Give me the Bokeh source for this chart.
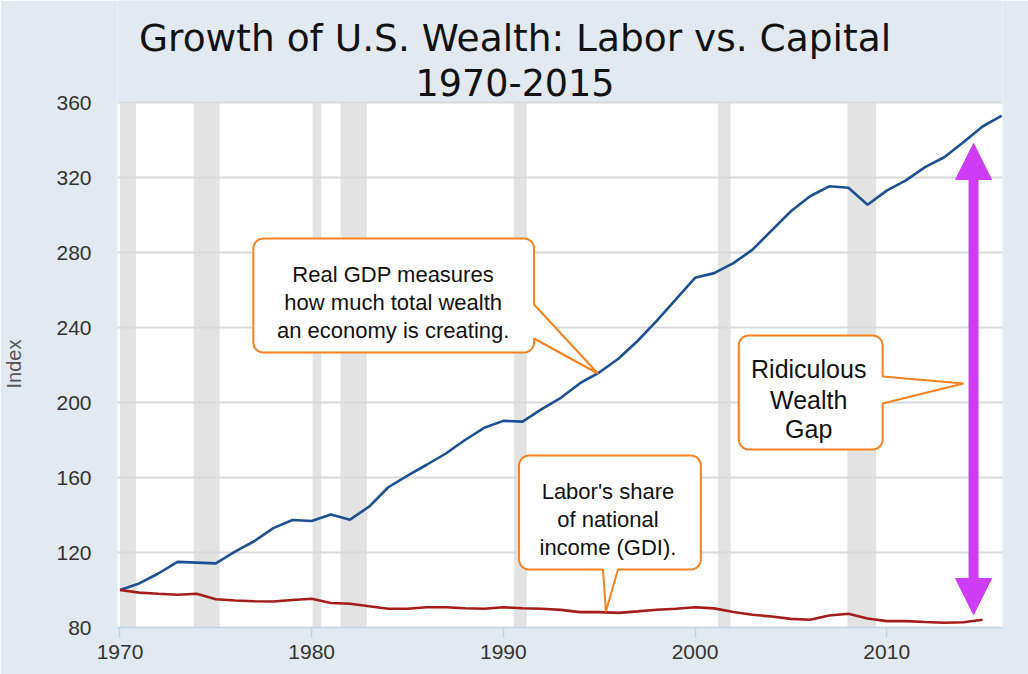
import math
from bokeh.plotting import figure
from bokeh.models import Range1d, Arrow, NormalHead
from bokeh.core.properties import value
from bokeh.embed import file_html
from bokeh.resources import INLINE

# ---------------- data ----------------
years_gdp = list(range(1970, 2017))
gdp = [100, 103.5, 108.8, 115, 114.6, 114.2, 120.5, 126, 133, 137.3,
       136.8, 140.3, 137.5, 144.5, 154.8, 161, 166.8, 172.8, 180, 186.5,
       190.2, 189.8, 196.5, 202.5, 210.3, 216, 223.3, 232.8, 243.5, 255,
       266.5, 269, 274.3, 281.5, 291.8, 302, 310, 315.3, 314.5, 305.5,
       313, 318.5, 325.5, 330.8, 338.8, 347.2, 353]
years_labor = list(range(1970, 2016))
labor = [100, 98.6, 98, 97.5, 98, 95.1, 94.4, 94, 93.9, 94.7,
         95.3, 93.1, 92.7, 91.3, 90, 90, 90.8, 90.8, 90.3, 90,
         90.8, 90.3, 90, 89.4, 88.2, 88.2, 87.8, 88.6, 89.5, 90,
         90.8, 90.2, 88.3, 86.8, 85.9, 84.6, 84.1, 86.4, 87.3, 84.8,
         83.4, 83.4, 82.9, 82.5, 82.8, 84.1]
rec_start = [1970.0, 1973.85, 1980.05, 1981.5, 1990.55, 2001.2, 2007.95]
rec_end = [1970.83, 1975.2, 1980.5, 1982.88, 1991.22, 2001.85, 2009.45]
x_ticks = [1970, 1980, 1990, 2000, 2010]
y_ticks = [80, 120, 160, 200, 240, 280, 320, 360]

title_lines = ["Growth of U.S. Wealth: Labor vs. Capital", "1970-2015"]
y_label = "Index"
gdp_note = ["Real GDP measures", "how much total wealth", "an economy is creating."]
labor_note = ["Labor's share", "of national", "income (GDI)."]
gap_note = ["Ridiculous", "Wealth", "Gap"]

# ---------------- layout ----------------
W, H = 1028, 674
X0, X1 = 1969.87, 2016.04
Y0, YTOP = 80, 360
FL, FR, FB = 116, 1002, 627          # frame edges in page pixels (frame top = 0)
PLOT_TOP = 102                        # pixel row of the 360 line
PPU = (FB - PLOT_TOP) / (YTOP - Y0)   # pixels per index unit
Y1 = Y0 + FB / PPU                    # value at the very top of the frame

BG = "#e2e9f0"
ORANGE = "#f7811e"
MAG = "#cf3cf6"
BLUE = "#1d4f91"
RED = "#a41c1c"


def dx(rx):
    return X0 + (rx - FL) * (X1 - X0) / (FR - FL)


def dy(ry):
    return Y0 + (FB - ry) / PPU


p = figure(width=W, height=H, x_range=Range1d(X0, X1), y_range=Range1d(Y0, Y1),
           output_backend="svg", toolbar_location=None,
           min_border_left=FL, min_border_right=W - FR,
           min_border_top=0, min_border_bottom=H - FB,
           background_fill_color=BG, border_fill_color=BG,
           outline_line_color=None)

p.xaxis.ticker = x_ticks
p.yaxis.ticker = y_ticks
for ax in (p.xaxis[0], p.yaxis[0]):
    ax.major_label_text_font = "Liberation Sans"
    ax.major_label_text_font_size = "21px"
    ax.major_label_text_color = "#333333"
    ax.minor_tick_line_color = None
p.yaxis.axis_line_color = None
p.yaxis.major_tick_line_color = None
p.yaxis.major_tick_out = 0
p.yaxis.major_tick_in = 0
p.yaxis.major_label_standoff = 26
# the axis title is centred on the (full-height) frame; trailing no-break
# spaces shift the visible word down to the middle of the plotting area
p.yaxis.axis_label = y_label + "\u00a0" * 18
p.yaxis.axis_label_text_font = "Liberation Sans"
p.yaxis.axis_label_text_font_size = "20px"
p.yaxis.axis_label_text_font_style = "normal"
p.yaxis.axis_label_text_color = "#555555"
p.yaxis.axis_label_standoff = 28
p.xaxis.axis_line_color = "#c3d1e0"
p.xaxis.axis_line_width = 1.5
p.xaxis.major_tick_line_color = "#c3d1e0"
p.xaxis.major_tick_line_width = 1.5
p.xaxis.major_tick_out = 10
p.xaxis.major_tick_in = 0
p.xaxis.major_label_standoff = 7

p.xgrid.grid_line_color = None
p.ygrid.grid_line_color = "#d9d9d9"
p.ygrid.grid_line_width = 2

# white plotting area, then recession shading (both beneath the grid)
p.quad(left=[X0], right=[X1], bottom=[Y0], top=[YTOP],
       fill_color="white", line_color=None, level="image")
p.quad(left=rec_start, right=rec_end, bottom=Y0, top=YTOP,
       fill_color="#e3e3e3", line_color=None, level="image")

# series
p.line(years_gdp, gdp, line_color=BLUE, line_width=2.6)
p.line(years_labor, labor, line_color=RED, line_width=2.6)


# callouts (rounded boxes with a pointer)
def callout(x0, y0, x1, y1, r, side, w):
    pts = []

    def arc(cx, cy, a0, a1):
        for k in range(9):
            a = math.radians(a0 + (a1 - a0) * k / 8)
            pts.append((cx + r * math.cos(a), cy + r * math.sin(a)))

    arc(x1 - r, y0 + r, -90, 0)
    if side == "right":
        pts.extend([(x1, w[0]), (w[1], w[2]), (x1, w[3])])
    arc(x1 - r, y1 - r, 0, 90)
    if side == "bottom":
        pts.extend([(w[3], y1), (w[1], w[2]), (w[0], y1)])
    arc(x0 + r, y1 - r, 90, 180)
    arc(x0 + r, y0 + r, 180, 270)
    xs = [dx(a) for a, b in pts]
    ys = [dy(b) for a, b in pts]
    p.patch(xs, ys, fill_color="white", line_color=ORANGE, line_width=2)


callout(252, 238, 533, 352, 10, "right", (304, 597, 373, 338))
callout(518, 455, 700, 569, 10, "bottom", (602, 605, 611, 617))
callout(738, 335, 882, 449, 10, "right", (376, 963, 383, 403))

p.text(x=[dx(392)] * 3, y=[dy(274), dy(302), dy(330)], text=gdp_note,
       text_font=value("Liberation Sans"), text_font_size="22px",
       text_align="center", text_baseline="alphabetic", text_color="#111111")
p.text(x=[dx(607)] * 3, y=[dy(491), dy(519), dy(547)], text=labor_note,
       text_font=value("Liberation Sans"), text_font_size="22px",
       text_align="center", text_baseline="alphabetic", text_color="#111111")
p.text(x=[dx(808)] * 3, y=[dy(368), dy(399), dy(428)], text=gap_note,
       text_font=value("Liberation Sans"), text_font_size="25px",
       text_align="center", text_baseline="alphabetic", text_color="#111111")

# magenta double arrow
AX = dx(973)
p.segment(x0=[AX], y0=[dy(582)], x1=[AX], y1=[dy(174)], line_color=MAG, line_width=10)
p.add_layout(Arrow(start=NormalHead(size=36, fill_color=MAG, line_color=MAG),
                   end=NormalHead(size=36, fill_color=MAG, line_color=MAG),
                   x_start=AX, y_start=dy(614), x_end=AX, y_end=dy(143),
                   line_alpha=0))

# title, drawn in the upper part of the frame
p.text(x=[dx(514)], y=[dy(37.5)], text=[title_lines[0]],
       text_font=value("DejaVu Sans"), text_font_size="37.5px",
       text_align="center", text_baseline="alphabetic", text_color="#111111")
p.text(x=[dx(514)], y=[dy(81.5)], text=[title_lines[1]],
       text_font=value("DejaVu Sans"), text_font_size="36.5px",
       text_align="center", text_baseline="alphabetic", text_color="#111111")

open("out.html", "w").write(file_html(p, INLINE))
